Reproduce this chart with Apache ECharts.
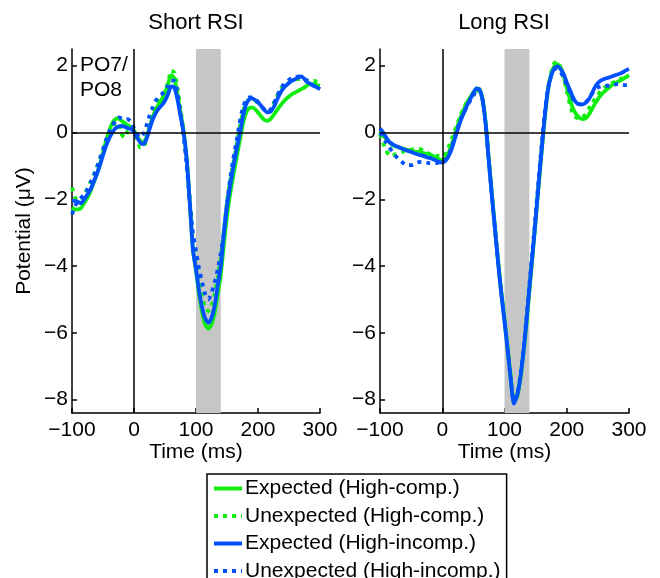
<!DOCTYPE html>
<html>
<head>
<meta charset="utf-8">
<script src="https://cdn.jsdelivr.net/npm/echarts@6/dist/echarts.min.js"></script>
<style>html,body{margin:0;padding:0;background:#fff;}#c{width:660px;height:578px;}</style>
</head>
<body>
<div id="c"></div>
<script>
// Time axis (ms)
const times = [-100,-95,-90,-85,-80,-75,-70,-65,-60,-55,-50,-45,-40,-35,-30,-25,-20,-15,-10,-5,
  0,5,10,15,20,25,30,35,40,45,50,55,60,65,70,75,80,85,90,95,
  100,105,110,115,120,125,130,135,140,145,150,155,160,165,170,175,180,185,190,195,
  200,205,210,215,220,225,230,235,240,245,250,255,260,265,270,275,280,285,290,295,300];

const seriesNames = ['Expected (High-comp.)','Unexpected (High-comp.)','Expected (High-incomp.)','Unexpected (High-incomp.)'];
const panelTitles = ['Short RSI','Long RSI'];
const xTicks = [-100,0,100,200,300];
const yTicks = [-8,-6,-4,-2,0,2];
const shadeWindow = [100,140];

// Short RSI
const shortExpComp = [-2.25,-2.3,-2.3,-2.25,-2.1,-1.95,-1.75,-1.5,-1.25,-0.95,
  -0.6,-0.25,0.05,0.28,0.4,0.42,0.35,0.28,0.22,0.15,
  0.05,-0.1,-0.25,-0.3,-0.15,0.15,0.45,0.68,0.85,1.0,
  1.2,1.45,1.72,1.62,1.15,0.6,0.05,-0.8,-2.1,-3.5,
  -4.15,-4.85,-5.4,-5.75,-5.88,-5.75,-5.4,-4.85,-4.25,-3.35,
  -2.5,-1.85,-1.3,-0.8,-0.3,0.2,0.55,0.72,0.75,0.7,
  0.6,0.48,0.38,0.35,0.4,0.52,0.65,0.78,0.9,1.0,
  1.08,1.15,1.2,1.25,1.3,1.35,1.42,1.45,1.45,1.42,1.4];
const shortUnexpComp = [-1.65,-1.95,-2.05,-2.0,-1.85,-1.68,-1.48,-1.28,-1.05,-0.8,
  -0.55,-0.3,-0.1,0.1,0.28,0.3,-0.05,-0.15,0.05,0.15,
  0.05,-0.2,-0.45,-0.45,-0.2,0.2,0.55,0.85,1.0,1.1,
  1.25,1.5,1.85,1.8,1.35,0.7,0.05,-0.8,-2.0,-3.2,
  -3.85,-4.45,-4.95,-5.25,-5.35,-5.2,-4.85,-4.35,-3.75,-2.9,
  -2.05,-1.45,-0.95,-0.45,0.1,0.55,0.85,0.98,1.0,0.95,
  0.88,0.78,0.68,0.62,0.65,0.85,1.05,1.25,1.38,1.45,
  1.5,1.55,1.58,1.6,1.6,1.55,1.55,1.55,1.55,1.52,1.5];
const shortExpIncomp = [-2.05,-2.05,-2.08,-2.12,-2.0,-1.85,-1.7,-1.48,-1.25,-0.98,
  -0.68,-0.4,-0.18,0.0,0.12,0.18,0.2,0.17,0.13,0.1,
  0.02,-0.15,-0.3,-0.35,-0.2,0.1,0.38,0.58,0.72,0.82,
  0.95,1.15,1.38,1.35,1.0,0.5,0.0,-0.8,-2.1,-3.5,
  -4.1,-4.75,-5.25,-5.58,-5.7,-5.55,-5.2,-4.6,-4.0,-3.0,
  -2.2,-1.6,-1.05,-0.55,-0.1,0.4,0.8,0.98,1.02,0.98,
  0.9,0.8,0.68,0.6,0.62,0.75,0.95,1.15,1.3,1.4,
  1.48,1.55,1.6,1.65,1.68,1.6,1.5,1.45,1.4,1.35,1.3];
const shortUnexpIncomp = [-2.45,-2.2,-2.05,-1.95,-1.85,-1.7,-1.5,-1.3,-1.05,-0.78,
  -0.5,-0.22,0.02,0.2,0.35,0.45,0.42,0.38,0.4,0.32,
  0.12,-0.05,-0.15,-0.05,0.2,0.5,0.75,0.95,1.08,1.15,
  1.25,1.4,1.55,1.55,1.2,0.55,-0.1,-1.0,-2.1,-3.0,
  -3.55,-4.1,-4.5,-4.85,-5.0,-4.8,-4.5,-4.1,-3.6,-3.0,
  -2.1,-1.4,-0.8,-0.3,0.25,0.7,0.95,1.05,1.05,1.0,
  0.92,0.8,0.7,0.62,0.68,0.85,1.05,1.25,1.4,1.5,
  1.58,1.62,1.65,1.68,1.65,1.6,1.55,1.45,1.4,1.35,1.3];

// Long RSI
const longExpComp = [0.05,-0.08,-0.2,-0.3,-0.38,-0.42,-0.45,-0.47,-0.5,-0.52,
  -0.55,-0.57,-0.58,-0.6,-0.62,-0.64,-0.66,-0.7,-0.75,-0.8,
  -0.83,-0.78,-0.62,-0.38,-0.08,0.22,0.48,0.7,0.9,1.05,
  1.2,1.32,1.3,0.98,0.25,-0.85,-1.9,-2.9,-3.9,-4.8,
  -5.6,-6.45,-7.35,-8.08,-7.92,-7.45,-6.7,-5.8,-4.75,-3.7,
  -2.65,-1.55,-0.5,0.5,1.3,1.75,1.98,2.05,1.95,1.7,
  1.35,1.0,0.72,0.55,0.45,0.4,0.42,0.52,0.68,0.85,
  1.0,1.12,1.22,1.3,1.38,1.45,1.5,1.55,1.6,1.66,1.72];
const longUnexpComp = [-0.05,-0.3,-0.55,-0.68,-0.7,-0.65,-0.6,-0.58,-0.56,-0.54,
  -0.52,-0.5,-0.5,-0.5,-0.55,-0.6,-0.65,-0.68,-0.7,-0.7,
  -0.72,-0.65,-0.45,-0.2,0.05,0.3,0.55,0.75,0.92,1.05,
  1.15,1.25,1.25,0.95,0.25,-0.85,-1.9,-2.9,-3.9,-4.8,
  -5.6,-6.45,-7.3,-8.05,-7.9,-7.4,-6.65,-5.75,-4.7,-3.65,
  -2.6,-1.5,-0.45,0.45,1.25,1.8,2.08,2.12,1.95,1.65,
  1.25,0.85,0.55,0.45,0.42,0.45,0.55,0.7,0.85,1.0,
  1.12,1.25,1.35,1.4,1.45,1.5,1.55,1.6,1.62,1.65,1.65];
const longExpIncomp = [0.12,0.0,-0.15,-0.28,-0.35,-0.4,-0.44,-0.48,-0.52,-0.55,
  -0.58,-0.62,-0.65,-0.68,-0.7,-0.74,-0.76,-0.8,-0.84,-0.88,
  -0.9,-0.85,-0.72,-0.5,-0.2,0.1,0.38,0.6,0.82,1.0,
  1.18,1.32,1.28,0.95,0.2,-0.9,-1.95,-2.95,-3.95,-4.85,
  -5.65,-6.5,-7.4,-8.12,-7.9,-7.4,-6.65,-5.7,-4.65,-3.65,
  -2.6,-1.5,-0.45,0.55,1.3,1.7,1.92,1.98,1.9,1.75,
  1.5,1.28,1.05,0.9,0.85,0.84,0.88,0.98,1.15,1.35,
  1.48,1.56,1.6,1.63,1.66,1.7,1.73,1.76,1.8,1.86,1.9];
const longUnexpIncomp = [0.0,-0.15,-0.3,-0.45,-0.58,-0.7,-0.8,-0.88,-0.95,-0.98,
  -0.98,-0.95,-0.9,-0.88,-0.88,-0.9,-0.92,-0.92,-0.92,-0.9,
  -0.88,-0.82,-0.68,-0.45,-0.15,0.15,0.4,0.6,0.8,0.95,
  1.1,1.25,1.25,0.95,0.2,-0.9,-1.95,-2.95,-3.95,-4.85,
  -5.65,-6.5,-7.35,-8.05,-7.85,-7.35,-6.6,-5.6,-4.55,-3.5,
  -2.45,-1.35,-0.3,0.65,1.35,1.7,1.88,1.92,1.82,1.65,
  1.42,1.2,1.0,0.88,0.84,0.84,0.9,1.0,1.15,1.28,
  1.35,1.38,1.4,1.4,1.4,1.42,1.45,1.45,1.43,1.42,1.42];

const FONT = "'Liberation Sans', Arial, Helvetica, sans-serif";
const GREEN = '#10ee10';
const BLUE = '#0050ff';
const fmt = v => (v < 0 ? '\u2212' + Math.abs(v) : String(v));

const panels = [
  [shortExpComp, shortUnexpComp, shortExpIncomp, shortUnexpIncomp],
  [longExpComp, longUnexpComp, longExpIncomp, longUnexpIncomp]
];
const styles = [
  {color: GREEN, dashed: false},
  {color: GREEN, dashed: true},
  {color: BLUE, dashed: false},
  {color: BLUE, dashed: true}
];

const series = [];
panels.forEach((p, gi) => {
  series.push({
    type: 'line', xAxisIndex: gi, yAxisIndex: gi, data: [], z: 1, silent: true,
    markArea: {silent: true, itemStyle: {color: '#c6c6c6'}, data: [[{xAxis: shadeWindow[0]}, {xAxis: shadeWindow[1]}]]}
  });
  series.push({
    type: 'line', xAxisIndex: gi, yAxisIndex: gi, data: [], z: 2, silent: true,
    markLine: {silent: true, symbol: 'none', label: {show: false},
      lineStyle: {color: '#000', width: 1.5, type: 'solid'},
      data: [{yAxis: 0}, {xAxis: 0}]}
  });
  p.forEach((vals, si) => {
    const st = styles[si];
    series.push({
      type: 'line', name: seriesNames[si], xAxisIndex: gi, yAxisIndex: gi, z: 3,
      data: times.map((t, i) => [t, vals[i]]),
      symbol: 'none', smooth: 0.2,
      lineStyle: {color: st.color, width: 3.8, type: st.dashed ? [4, 5] : 'solid', cap: 'butt'},
      itemStyle: {color: st.color},
      emphasis: {disabled: true}
    });
  });
});

const grids = [
  {left: 72, top: 49, width: 248, height: 364},
  {left: 380, top: 49, width: 249, height: 364}
];

const xAxes = grids.map((g, gi) => ({
  type: 'value', gridIndex: gi, min: -100, max: 300, interval: 100,
  axisLine: {show: true, onZero: false, lineStyle: {color: '#000', width: 1.5}},
  axisTick: {show: true, inside: true, length: 5, lineStyle: {color: '#000', width: 1.5}},
  axisLabel: {color: '#000', fontSize: 21, fontFamily: FONT, margin: 7, formatter: fmt},
  splitLine: {show: false},
  name: 'Time (ms)', nameLocation: 'middle', nameGap: 29, nameMoveOverlap: false,
  nameTextStyle: {color: '#000', fontSize: 21, fontFamily: FONT}
}));
const yAxes = grids.map((g, gi) => ({
  type: 'value', gridIndex: gi, min: -8.4, max: 2.5,
  axisLine: {show: true, onZero: false, lineStyle: {color: '#000', width: 1.5}},
  axisTick: {show: true, inside: true, length: 5, customValues: yTicks, lineStyle: {color: '#000', width: 1.5}},
  axisLabel: {color: '#000', fontSize: 21, fontFamily: FONT, margin: 4, formatter: fmt, customValues: yTicks},
  splitLine: {show: false},
  name: gi === 0 ? 'Potential (\u03bcV)' : '', nameLocation: 'middle', nameGap: 37, nameRotate: 90,
  nameMoveOverlap: false,
  nameTextStyle: {color: '#000', fontSize: 21, fontFamily: FONT}
}));

const chart = echarts.init(document.getElementById('c'), null, {renderer: 'canvas'});
chart.setOption({
  animation: false,
  backgroundColor: '#fff',
  grid: grids,
  xAxis: xAxes,
  yAxis: yAxes,
  legend: {
    data: seriesNames, orient: 'vertical', left: 207, top: 474, height: 130,
    padding: [4, 6, 6, 5], itemWidth: 28, itemHeight: 14, itemGap: 6.5,
    borderColor: '#000', borderWidth: 1.5, backgroundColor: '#fff',
    selectedMode: false,
    itemStyle: {opacity: 0},
    lineStyle: {width: 4},
    textStyle: {color: '#000', fontSize: 21, fontFamily: FONT, lineHeight: 20, padding: [0, 0, 0, -2]}
  },
  graphic: [
    {type: 'text', x: 196, y: 23, style: {text: panelTitles[0], align: 'center', verticalAlign: 'middle', font: '22px ' + FONT, fill: '#000'}},
    {type: 'text', x: 504, y: 23, style: {text: panelTitles[1], align: 'center', verticalAlign: 'middle', font: '22px ' + FONT, fill: '#000'}},
    {type: 'text', x: 80, y: 53, z: 10, style: {text: 'PO7/\nPO8', align: 'left', verticalAlign: 'top', font: '21px ' + FONT, lineHeight: 25, fill: '#000'}}
  ],
  series: series
});
</script>
</body>
</html>
